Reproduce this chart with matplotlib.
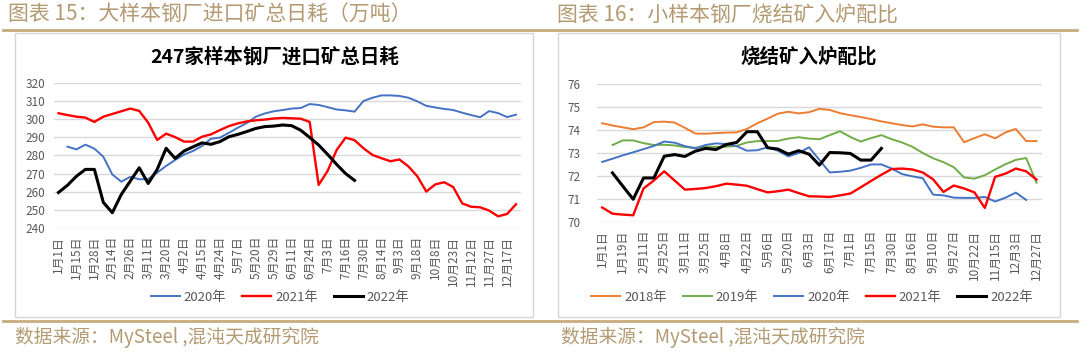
import numpy as np
import matplotlib
matplotlib.use('Agg')
import matplotlib.pyplot as plt
from matplotlib.patches import Rectangle
from matplotlib.lines import Line2D

plt.rcParams['font.family'] = ['Noto Sans CJK SC', 'DejaVu Sans']

nan = np.nan

# 图表15 数据 (万吨)
left_labels = ['1月1日', '1月15日', '1月28日', '2月14日', '2月26日', '3月11日', '3月20日',
               '4月2日', '4月15日', '4月24日', '5月7日', '5月20日', '5月29日', '6月11日',
               '6月24日', '7月3日', '7月16日', '7月30日', '8月14日', '9月3日', '9月18日',
               '10月8日', '10月23日', '11月12日', '11月27日', '12月17日']
big_2020 = [nan, 284.9, 283.4, 286.0, 283.8, 279.3, 269.5, 265.5, 268.2, 266.8,
            267.0, 270.5, 274.2, 277.5, 280.5, 282.5, 285.3, 289.3, 289.9, 292.6,
            295.4, 298.0, 301.5, 303.3, 304.5, 305.2, 306.0, 306.3, 308.5, 308.0,
            306.8, 305.5, 305.0, 304.3, 310.2, 312.0, 313.3, 313.3, 313.0, 312.0,
            310.0, 307.5, 306.6, 305.8, 305.2, 303.7, 302.4, 301.2, 304.6, 303.5,
            301.3, 302.6]
big_2021 = [303.4, 302.4, 301.5, 301.0, 298.6, 301.5, 303.0, 304.5, 306.0, 304.7,
            298.2, 288.6, 292.1, 290.2, 287.7, 287.7, 290.4, 291.7, 294.1, 296.3,
            297.8, 298.9, 299.5, 299.9, 300.5, 300.8, 300.6, 300.4, 298.6, 263.7,
            271.5, 283.0, 289.9, 288.5, 284.0, 280.3, 278.5, 276.8, 277.8, 274.0,
            268.5, 260.0, 264.0, 265.2, 262.5, 253.5, 251.6, 251.3, 249.5, 246.3,
            247.6, 253.0]
big_2022 = [259.5, 263.5, 268.5, 272.3, 272.3, 254.0, 248.3, 258.4, 265.8, 273.2,
            264.5, 272.3, 284.0, 278.4, 282.5, 284.8, 287.0, 286.2, 287.7, 290.4,
            291.7, 293.3, 295.0, 296.0, 296.3, 296.9, 296.5, 294.0, 290.0, 285.8,
            280.6, 275.1, 270.0, 266.2] + [nan] * 18

# 图表16 数据 (%)
right_labels = ['1月1日', '1月19日', '2月11日', '2月25日', '3月11日', '3月25日', '4月8日',
                '4月22日', '5月6日', '5月20日', '6月3日', '6月17日', '7月1日', '7月15日',
                '7月30日', '8月16日', '9月10日', '9月27日', '10月22日', '11月15日',
                '12月3日', '12月27日']
sin_2018 = [74.30, 74.20, 74.12, 74.04, 74.12, 74.35, 74.37, 74.33, 74.10, 73.85,
            73.84, 73.87, 73.89, 73.90, 74.05, 74.30, 74.50, 74.72, 74.80, 74.73,
            74.78, 74.93, 74.88, 74.74, 74.65, 74.57, 74.48, 74.38, 74.30, 74.22,
            74.16, 74.25, 74.15, 74.12, 74.12, 73.47, 73.65, 73.82, 73.64, 73.90,
            74.05, 73.52, 73.52]
sin_2019 = [nan, 73.35, 73.55, 73.55, 73.43, 73.35, 73.36, 73.33, 73.26, 73.23,
            73.27, 73.27, 73.27, 73.31, 73.46, 73.52, 73.52, 73.53, 73.63, 73.69,
            73.63, 73.60, 73.78, 73.95, 73.70, 73.50, 73.65, 73.78, 73.60, 73.46,
            73.27, 73.00, 72.77, 72.60, 72.38, 71.93, 71.88, 72.03, 72.28, 72.51,
            72.70, 72.78, 71.70]
sin_2020 = [72.61, 72.75, 72.90, 73.03, 73.17, 73.31, 73.50, 73.45, 73.30, 73.20,
            73.35, 73.42, 73.39, 73.30, 73.10, 73.12, 73.25, 73.10, 72.85, 73.00,
            73.25, 72.70, 72.15, 72.18, 72.23, 72.35, 72.50, 72.50, 72.32, 72.08,
            71.98, 71.90, 71.18, 71.15, 71.05, 71.04, 71.04, 71.08, 70.88, 71.05,
            71.27, 70.95, nan]
sin_2021 = [70.62, 70.35, 70.31, 70.28, 71.45, 71.80, 72.20, 71.80, 71.40, 71.43,
            71.47, 71.55, 71.66, 71.62, 71.57, 71.42, 71.28, 71.33, 71.40, 71.25,
            71.11, 71.10, 71.08, 71.15, 71.23, 71.50, 71.78, 72.05, 72.30, 72.32,
            72.28, 72.15, 71.85, 71.30, 71.58, 71.45, 71.28, 70.60, 71.96, 72.10,
            72.32, 72.20, 71.84]
sin_2022 = [nan, 72.13, 71.55, 70.98, 71.91, 71.91, 72.86, 72.93, 72.85, 73.08,
            73.20, 73.15, 73.37, 73.46, 73.93, 73.93, 73.23, 73.17, 72.95, 73.10,
            72.95, 72.47, 73.02, 73.01, 72.98, 72.69, 72.69, 73.20] + [nan] * 15

tan = '#b39a72'
grey = '#595959'
W, H = 1080, 355


def fx(px):
    return px / W


def fy(py):
    return 1 - py / H


def style(ax, labels, ylim, yticks):
    ax.set_ylim(*ylim)
    ax.set_yticks(yticks)
    ax.set_xticks(range(0, 2 * len(labels), 2))
    ax.set_xticklabels(labels, rotation=90, fontsize=8.5, color=grey)
    ax.tick_params(axis='y', labelsize=8.5, labelcolor=grey, length=0, pad=6)
    ax.tick_params(axis='x', length=0, pad=6)
    for s in ax.spines.values():
        s.set_visible(False)
    ax.grid(axis='y', color='#d9d9d9', lw=1)
    ax.set_axisbelow(True)


fig = plt.figure(figsize=(10.8, 3.55), dpi=100)

# 外框和标题栏
for x0, x1 in [(15, 533), (558, 1060)]:
    fig.add_artist(Rectangle((fx(x0), fy(317)), fx(x1 - x0), (317 - 33) / H,
                             transform=fig.transFigure, fill=False, ec='#d6d6d6', lw=1))
fig.add_artist(Line2D([0.003, 0.997], [fy(30), fy(30)], color='#c8ab7e', lw=2))
fig.add_artist(Line2D([0.003, 0.997], [fy(321), fy(321)], color='#c8ab7e', lw=2))
fig.text(fx(8), fy(15), '图表 15：大样本钢厂进口矿总日耗（万吨）', fontsize=15,
         color=tan, va='center')
fig.text(fx(557), fy(15), '图表 16：小样本钢厂烧结矿入炉配比', fontsize=15,
         color=tan, va='center')
fig.text(fx(15), fy(337), '数据来源：MySteel ,混沌天成研究院', fontsize=13.5,
         color=tan, va='center')
fig.text(fx(561), fy(337), '数据来源：MySteel ,混沌天成研究院', fontsize=13.5,
         color=tan, va='center')

# 左图
ax1 = fig.add_axes([fx(54), fy(227.7), fx(466.5), (227.7 - 83.3) / H])
x1 = np.arange(len(big_2021))
ax1.plot(x1, big_2020, color='#4472C4', lw=1.4, label='2020年')
ax1.plot(x1, big_2021, color='#FF0000', lw=1.7, label='2021年')
ax1.plot(x1, big_2022, color='#000000', lw=2.2, label='2022年')
style(ax1, left_labels, (240, 320), range(240, 321, 10))
ax1.set_xlim(-0.5, len(big_2021) - 0.5)
fig.text(fx(275), fy(57), '247家样本钢厂进口矿总日耗', fontsize=14, fontweight='bold',
         ha='center', va='center')
ax1.legend(loc='center', bbox_to_anchor=(fx(280), fy(297)), bbox_transform=fig.transFigure,
           ncol=3, frameon=False, fontsize=9.5, labelcolor=grey, handlelength=2.2,
           handletextpad=0.3, columnspacing=1.2)

# 右图
ax2 = fig.add_axes([fx(597), fy(221.7), fx(444.7), (221.7 - 84.3) / H])
x2 = np.arange(len(sin_2018))
ax2.plot(x2, sin_2018, color='#ED7D31', lw=1.4, label='2018年')
ax2.plot(x2, sin_2019, color='#70AD47', lw=1.4, label='2019年')
ax2.plot(x2, sin_2020, color='#4472C4', lw=1.4, label='2020年')
ax2.plot(x2, sin_2021, color='#FF0000', lw=1.7, label='2021年')
ax2.plot(x2, sin_2022, color='#000000', lw=2.2, label='2022年')
style(ax2, right_labels, (70, 76), range(70, 77))
ax2.set_xlim(-0.5, len(sin_2018) - 0.5)
ax2.tick_params(axis='y', pad=12)
fig.text(fx(809), fy(57), '烧结矿入炉配比', fontsize=14, fontweight='bold',
         ha='center', va='center')
ax2.legend(loc='center', bbox_to_anchor=(fx(812), fy(297)), bbox_transform=fig.transFigure,
           ncol=5, frameon=False, fontsize=9.5, labelcolor=grey, handlelength=2.2,
           handletextpad=0.3, columnspacing=1.2)

fig.savefig('out.png', dpi=100)
